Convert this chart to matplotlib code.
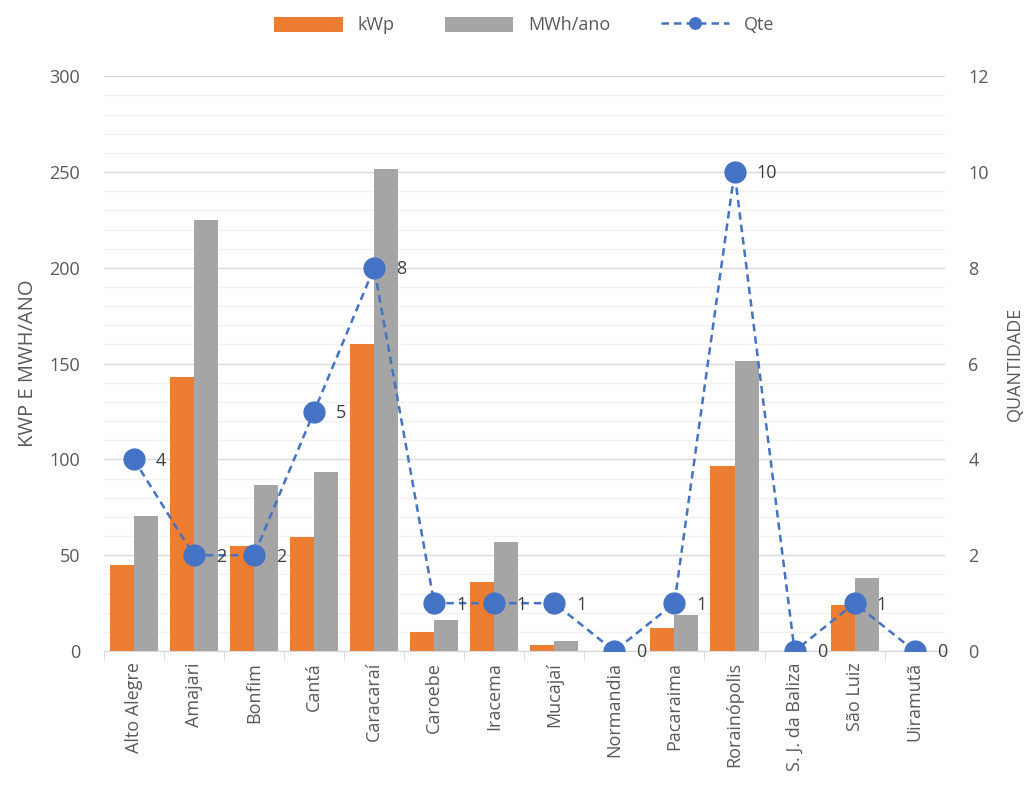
import matplotlib.pyplot as plt
from matplotlib.ticker import MultipleLocator
import numpy as np

plt.rcParams['font.family'] = ['Open Sans', 'DejaVu Sans']

municipios = ['Alto Alegre', 'Amajari', 'Bonfim', 'Cantá', 'Caracaraí', 'Caroebe',
              'Iracema', 'Mucajaí', 'Normandia', 'Pacaraima', 'Rorainópolis',
              'S. J. da Baliza', 'São Luiz', 'Uiramutã']
kwp = [45, 143, 55, 59.5, 160, 10, 36, 3, 0, 12, 96.5, 0, 24, 0]
mwh_ano = [70.5, 225, 86.5, 93.5, 251.5, 16, 57, 5, 0, 19, 151.5, 0, 38, 0]
qte = [4, 2, 2, 5, 8, 1, 1, 1, 0, 1, 10, 0, 1, 0]

laranja = '#ED7D31'
cinza = '#A5A5A5'
azul = '#4472C4'
texto = '#595959'

fig = plt.figure(figsize=(10.28, 7.94), dpi=100)
ax1 = fig.add_axes([0.101, 0.180, 0.818, 0.724])
ax2 = ax1.twinx()

x = np.arange(len(municipios))
w = 0.4
b1 = ax1.bar(x - w / 2, kwp, w, color=laranja, label='kWp', zorder=2)
b2 = ax1.bar(x + w / 2, mwh_ano, w, color=cinza, label='MWh/ano', zorder=2)

l1, = ax2.plot(x, qte, '--o', color=azul, lw=1.8, markersize=15, label='Qte',
               dashes=(3, 2))
for xi, q in zip(x, qte):
    ax2.annotate(str(q), (xi, q), xytext=(16, -1), textcoords='offset points',
                 va='center', ha='left', fontsize=13, color='#404040')

ax1.set_xlim(-0.5, len(municipios) - 0.5)
ax1.set_ylim(0, 300)
ax2.set_ylim(0, 12)
ax1.yaxis.set_major_locator(MultipleLocator(50))
ax1.yaxis.set_minor_locator(MultipleLocator(10))
ax2.yaxis.set_major_locator(MultipleLocator(2))
ax1.grid(which='major', axis='y', color='#D9D9D9', lw=1, zorder=0)
ax1.grid(which='minor', axis='y', color='#F2F2F2', lw=1, zorder=0)
ax1.set_axisbelow(True)

for ax in (ax1, ax2):
    for s in ax.spines.values():
        s.set_visible(False)
    ax.tick_params(axis='y', which='both', length=0, labelsize=13, labelcolor=texto, pad=17)
ax1.spines['bottom'].set_visible(True)
ax1.spines['bottom'].set_color('#D9D9D9')

ax1.set_xticks(x)
ax1.set_xticklabels(municipios, rotation=90, fontsize=13, color=texto)
ax1.set_xticks(np.arange(-0.5, len(municipios)), minor=True)
ax1.tick_params(axis='x', which='major', length=0, pad=8)
ax1.tick_params(axis='x', which='minor', length=7, color='#D9D9D9')

ax1.set_ylabel('KWP E MWH/ANO', fontsize=14.5, color=texto, labelpad=8)
ax2.set_ylabel('QUANTIDADE', fontsize=13, color=texto, labelpad=12)

fig.legend([b1, b2, l1], ['kWp', 'MWh/ano', 'Qte'], loc='upper center',
           bbox_to_anchor=(0.51, 1.0), ncol=3, frameon=False, fontsize=13,
           labelcolor=texto, handlelength=3.8, handleheight=0.9,
           columnspacing=2.8, markerscale=0.55)

fig.savefig('out.png', dpi=100)
plt.close(fig)
